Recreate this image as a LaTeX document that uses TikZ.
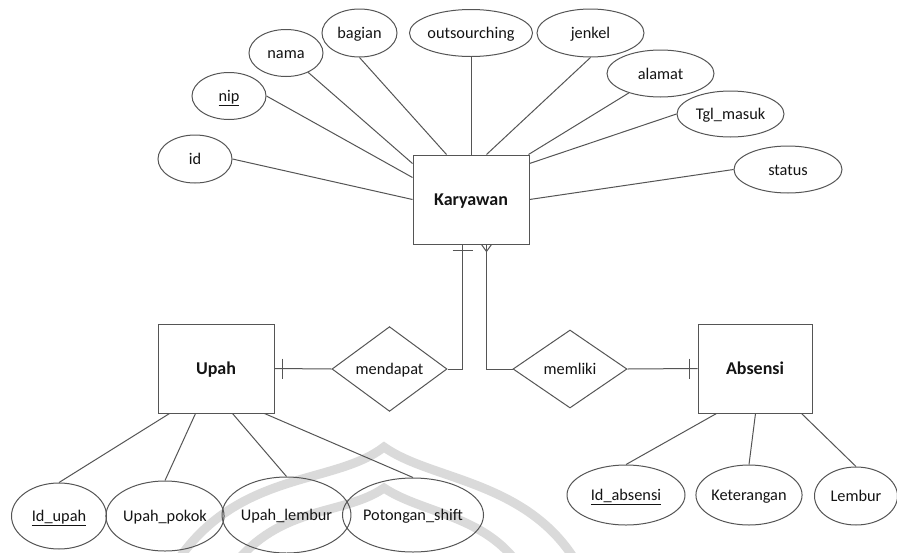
\documentclass[tikz,border=0pt]{standalone}
\usepackage{fontspec}
\setmainfont{Carlito}
\usetikzlibrary{shapes.geometric,calc}
\definecolor{lc}{RGB}{85,85,85}
\definecolor{tc}{RGB}{20,20,20}
\definecolor{wm}{RGB}{218,218,218}
\newcommand\regf{\fontsize{16.3}{19}\selectfont}
\newcommand\bldf{\fontsize{18}{21}\selectfont\bfseries}
\begin{document}
\begin{tikzpicture}[x=1pt,y=-1pt,
  ln/.style={draw=lc, line width=1pt},
  attr/.style={ellipse, draw=lc, line width=1pt, inner sep=0pt, font=\regf, text=tc, text height=14pt, text depth=3pt},
  ent/.style={rectangle, draw=lc, line width=1pt, inner sep=0pt, font=\bldf, text=tc, minimum height=89pt, text height=15pt, text depth=3pt},
  rel/.style={diamond, draw=lc, line width=1pt, inner sep=0pt, font=\regf, text=tc, minimum height=78pt, text height=14pt, text depth=3pt},
  wmark/.style={draw=wm, line width=9pt}
]
\useasboundingbox (0,0) rectangle (897,552);
\clip (0,0) rectangle (897,552);
\fill[white] (0,0) rectangle (897,552);
% watermark
\draw[wmark] (178,560) .. controls (240,470) and (335,485) .. (384,447) .. controls (430,480) and (525,480) .. (575,560);
\draw[wmark] (238,560) .. controls (285,505) and (345,515) .. (384,488) .. controls (420,512) and (480,515) .. (515,560);

% entities
\node[ent, minimum width=116pt] (kar) at (471,199.5) {Karyawan};
\node[ent, minimum width=116pt] (upah) at (216,368.5) {Upah};
\node[ent, minimum width=114pt] (abs) at (755,368.5) {Absensi};
% relationships
\node[rel, minimum width=115pt] (mendapat) at (389.5,369) {mendapat};
\node[rel, minimum width=114pt] (memliki) at (570,369) {memliki};
% Karyawan attributes
\node[attr, minimum width=74pt, minimum height=48pt] (id) at (195,159) {id};
\node[attr, minimum width=74pt, minimum height=47pt] (nip) at (229,96) {\underline{nip}};
\node[attr, minimum width=74pt, minimum height=47pt] (nama) at (286,53) {nama};
\node[attr, minimum width=75pt, minimum height=48pt] (bagian) at (359.5,33) {bagian};
\node[attr, minimum width=116pt, minimum height=47pt] (outs) at (471,33) {outsourching};
\node[attr, minimum width=107pt, minimum height=48pt] (jenkel) at (590.5,33) {jenkel};
\node[attr, minimum width=107pt, minimum height=47pt] (alamat) at (660.5,73.5) {alamat};
\node[attr, minimum width=107pt, minimum height=46pt] (tgl) at (730.5,114) {Tgl\_masuk};
\node[attr, minimum width=108pt, minimum height=47pt] (status) at (788,169.5) {status};
% Upah attributes
\node[attr, minimum width=95pt, minimum height=66pt] (idupah) at (59,516) {\underline{Id\_upah}};
\node[attr, minimum width=114pt, minimum height=70pt] (upokok) at (165,516) {Upah\_pokok};
\node[attr, minimum width=113pt, minimum height=76pt] (ulembur) at (286.5,515) {Upah\_lembur};
\node[attr, minimum width=130pt, minimum height=74pt] (potong) at (413,515) {Potongan\_shift};
% Absensi attributes
\node[attr, minimum width=118pt, minimum height=60pt] (idabs) at (626,495) {\underline{Id\_absensi}};
\node[attr, minimum width=104pt, minimum height=60pt] (ket) at (749,495) {Keterangan};
\node[attr, minimum width=83pt, minimum height=58pt] (lembur) at (856,496) {Lembur};

% Karyawan attribute links
\draw[ln] (id.east) -- (kar.west);
\draw[ln] (nip.east) -- ($(kar.north west)+(0,23)$);
\draw[ln] (nama) -- ($(kar.north west)+(0,9)$);
\draw[ln] (bagian.south) -- ($(kar.north west)+(34,0)$);
\draw[ln] (outs.south) -- (kar.north);
\draw[ln] (jenkel.south) -- ($(kar.north west)+(74,0)$);
\draw[ln] (alamat) -- ($(kar.north east)+(-1,0)$);
\draw[ln] (tgl.west) -- ($(kar.north east)+(0,9)$);
\draw[ln] (status.west) -- (kar.east);
% Upah attribute links
\draw[ln] ($(upah.south west)+(12,0)$) -- (idupah.north);
\draw[ln] ($(upah.south west)+(38,0)$) -- (upokok.north);
\draw[ln] ($(upah.south west)+(75,0)$) -- (ulembur.north);
\draw[ln] ($(upah.south west)+(107,0)$) -- (potong.north);
% Absensi attribute links
\draw[ln] ($(abs.south west)+(19,0)$) -- (idabs.north);
\draw[ln] ($(abs.south west)+(58,0)$) -- (ket.north);
\draw[ln] ($(abs.south west)+(104,0)$) -- (lembur.north);

% relationships
\draw[ln] (upah.east) -- (mendapat.west);
\draw[ln] ($(upah.east)+(8,-10)$) -- ($(upah.east)+(8,10)$);
\draw[ln] (mendapat.east) -| ($(kar.south west)+(50,0)$);
\draw[ln] ($(kar.south west)+(40,6)$) -- ($(kar.south west)+(60,6)$);
\draw[ln] ($(kar.south west)+(74,0)$) |- (memliki.west);
\draw[ln] ($(kar.south west)+(69,0)$) -- ($(kar.south west)+(74,7)$) -- ($(kar.south west)+(79,0)$);
\draw[ln] (memliki.east) -- (abs.west);
\draw[ln] ($(abs.west)+(-8,-10)$) -- ($(abs.west)+(-8,10)$);
\end{tikzpicture}
\end{document}
